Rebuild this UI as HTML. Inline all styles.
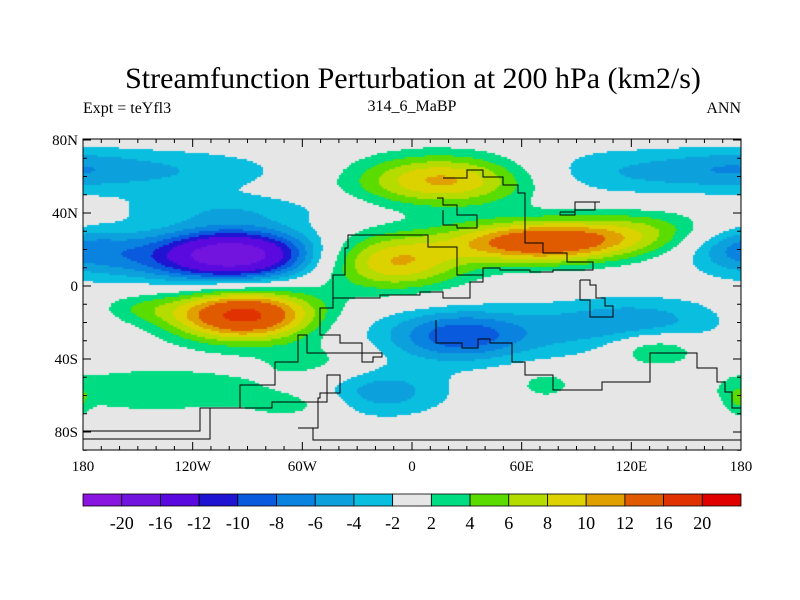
<!DOCTYPE html>
<html><head><meta charset="utf-8"><style>
body{margin:0;background:#fff;}
#root{position:relative;width:800px;height:600px;font-family:"Liberation Serif",serif;color:#000;}
.t{position:absolute;white-space:nowrap;}
</style></head><body>
<div id="root">
<div class="t" style="left:0;width:826px;text-align:center;top:62px;font-size:30px;">Streamfunction Perturbation at 200 hPa (km2/s)</div>
<div class="t" style="left:83px;top:100px;font-size:16px;">Expt = teYfl3</div>
<div class="t" style="left:312px;width:200px;text-align:center;top:98px;font-size:16px;">314_6_MaBP</div>
<div class="t" style="right:59px;top:100px;font-size:16px;">ANN</div>
<canvas id="map" width="658" height="311" style="position:absolute;left:83px;top:139px;"></canvas>
<svg id="ov" width="800" height="600" style="position:absolute;left:0;top:0;"></svg>
</div>
<script>
const levels=[-20,-16,-12,-10,-8,-6,-4,-2,2,4,6,8,10,12,16,20];
const colors=["#8a14e0","#7214de","#5a0ade","#1e14d2","#0a5ade","#0a82e0","#0ca0dc","#0abedf","#e6e6e6","#00dc82","#5adc00","#b4dc00","#dcd200","#e0a000","#e05a00","#e03200","#e00000"];
// blobs: lon, lat, amplitude, sigmaLon, sigmaLat
const blobLon=[-97,-160,-92,-140,-140,18,70,-10,125,26,40,125,-20,110,178,133,73,178,-50,-100,-60,175,-150];
const blobLat=[17,15,-16,-57,63,58,24,13,30,-28,-26,-18,-58,62,22,-35,-54,-62,-42,42,-65,65,-12];
const blobAmp=[-19,-4,17.5,3.4,-3.8,11,15,10,5,-5.5,-4.5,-4,-5.5,-3.6,-4.5,5,3.5,2.6,3.2,-3,3,-2,3];
const blobSx=[30,35,28,50,55,35,34,28,30,22,60,34,28,50,20,16,10,4,22,45,20,25,18];
const blobSy=[10,10,10,10,9,10,8,11,9,9,11,9,10,10,8,6,5,6,9,6,6,7,6];
const lonTicks=[-180,-120,-60,0,60,120,180];
const lonLabels=["180","120W","60W","0","60E","120E","180"];
const latTicks=[80,40,0,-40,-80];
const latLabels=["80N","40N","0","40S","80S"];
const X0=83,X1=741,Y0=139,Y1=450;
const xs=lon=>X0+(lon+180)*(X1-X0)/360;
const ys=lat=>286-lat*1.825;
function field(lon,lat){let v=0;for(let i=0;i<blobLon.length;i++){let d=Math.abs(lon-blobLon[i]);if(d>180)d=360-d;const a=d/blobSx[i],b=(lat-blobLat[i])/blobSy[i];v+=blobAmp[i]*Math.exp(-0.5*(a*a+b*b));}return v;}
const cv=document.getElementById('map');


const ctx=cv.getContext('2d');
for(let py=0;py<311;py+=2)for(let px=0;px<658;px+=2){
 const lon=(px+1)*360/658-180,lat=(286-(Y0+py+1))/1.825;
 const v=field(lon,lat);let k=0;while(k<levels.length&&v>=levels[k])k++;
 ctx.fillStyle=colors[k];ctx.fillRect(px,py,2,2);}
const NS='http://www.w3.org/2000/svg';const ov=document.getElementById('ov');
function mk(t,a,p){const e=document.createElementNS(NS,t);for(const k in a)e.setAttribute(k,a[k]);(p||ov).appendChild(e);return e;}
const coasts=[
[[83,431],[162,431],[200,408],[240,385],[275,362],[298,348],[298,335],[307,335],[307,353],[375,353],[382,357],[373,362],[367,362],[362,343],[340,335],[320,333],[320,308],[333,298],[360,298],[380,295],[420,292],[443,298],[470,282],[483,275],[472,275],[457,270],[457,247],[428,247],[428,235],[410,235],[360,235],[348,248],[345,275],[333,298]],
[[83,439],[168,439],[210,408],[272,402],[327,375],[340,375],[340,393],[320,398],[318,428],[298,428],[313,440],[741,440]],
[[436,320],[436,343],[457,343],[462,348],[478,339],[490,343],[512,362],[525,375],[553,390],[580,390],[602,382],[628,382],[650,353],[670,353],[697,368],[717,382],[725,392],[732,408],[741,417]],
[[443,178],[467,170],[483,177],[503,185],[518,193],[525,243],[543,253],[567,262],[593,262],[593,270],[553,272],[530,270],[500,268],[483,275]],
[[437,198],[443,205],[457,215],[477,220],[477,228],[457,225],[443,210]],
[[580,280],[590,285],[596,298],[605,306],[613,317],[603,317],[590,300],[580,292],[580,280]],
[[560,212],[575,202],[600,202],[595,210],[575,215],[560,212]]];
const cg=mk('g',{});


coasts.forEach(c=>{let d='M'+c[0][0]+','+c[0][1];for(let i=1;i<c.length;i++)d+=' H'+c[i][0]+' V'+c[i][1];mk('path',{d:d,fill:'none',stroke:'#000','stroke-width':1},cg);});
const frame=mk('rect',{x:X0,y:Y0,width:X1-X0,height:Y1-Y0,fill:'none',stroke:'#000','stroke-width':1});


for(let lon=-180;lon<=180;lon+=10){const x=xs(lon),L=lon%60===0?8:4;mk('line',{x1:x,y1:Y1,x2:x,y2:Y1-L,stroke:'#000'});mk('line',{x1:x,y1:Y0,x2:x,y2:Y0+L,stroke:'#000'});}
for(let lat=-90;lat<=80;lat+=10){const y=ys(lat),L=lat%40===0?8:4;mk('line',{x1:X0,y1:y,x2:X0+L,y2:y,stroke:'#000'});mk('line',{x1:X1,y1:y,x2:X1-L,y2:y,stroke:'#000'});}
lonTicks.forEach((v,i)=>{const t=mk('text',{x:xs(v),y:471,'text-anchor':'middle','font-size':15,'font-family':'Liberation Serif, serif'});t.textContent=lonLabels[i];

});
latTicks.forEach((v,i)=>{const t=mk('text',{x:78,y:ys(v)+5,'text-anchor':'end','font-size':15,'font-family':'Liberation Serif, serif'});t.textContent=latLabels[i];

});
const bw=(X1-X0)/colors.length;
const lg=mk('g',{});


colors.forEach((c,i)=>{mk('rect',{x:X0+i*bw,y:494,width:bw,height:12,fill:c,stroke:'#000','stroke-width':0.8},lg);});
levels.forEach((v,i)=>{const t=mk('text',{x:X0+(i+1)*bw,y:529,'text-anchor':'middle','font-size':18,'font-family':'Liberation Serif, serif'},lg);t.textContent=v;

});
</script>
</body></html>
